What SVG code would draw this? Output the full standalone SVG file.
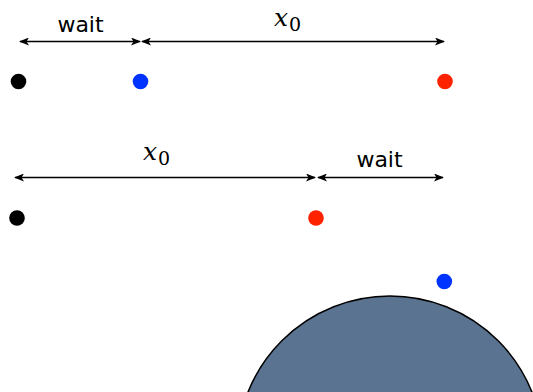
<svg xmlns="http://www.w3.org/2000/svg" width="533" height="392" viewBox="0 0 533 392">
<style>
.lbl{font-family:"DejaVu Sans",sans-serif;font-size:22px;fill:#000;text-anchor:middle}
.mx{font-family:"DejaVu Serif","Liberation Serif",serif;font-style:italic;font-size:25px;fill:#000}
.mn{font-family:"DejaVu Serif","Liberation Serif",serif;font-size:19px;fill:#000}
.ln{stroke:#000;stroke-width:1.5;fill:none;marker-start:url(#ah);marker-end:url(#ah)}
</style>
<defs>
<marker id="ah" viewBox="0 0 10 8" refX="9" refY="4" markerWidth="10" markerHeight="8" markerUnits="userSpaceOnUse" orient="auto-start-reverse">
<path d="M0,0 L10,4 L0,8 L2.5,4 Z" fill="#000"/>
</marker>
</defs>
<g id="earth">
<circle cx="390" cy="449" r="153" fill="#5a7391" stroke="#000" stroke-width="1.5"/>
</g>
<g id="connectors">
<line class="ln" x1="20" y1="41.5" x2="140" y2="41.5"/>
<line class="ln" x1="142" y1="41.5" x2="444" y2="41.5"/>
<line class="ln" x1="15" y1="177.5" x2="315" y2="177.5"/>
<line class="ln" x1="318" y1="177.5" x2="443" y2="177.5"/>
</g>
<g id="labels">
<text class="lbl" x="80.5" y="32">wait</text>
<text x="274" y="26"><tspan class="mx">x</tspan><tspan class="mn" dx="1" dy="5">0</tspan></text>
<text class="lbl" x="379.5" y="167">wait</text>
<text x="143" y="160"><tspan class="mx">x</tspan><tspan class="mn" dx="1" dy="5">0</tspan></text>
</g>
<g id="row1">
<circle cx="18.5" cy="81.5" r="7.8" fill="#000"/>
<circle cx="140.5" cy="81.5" r="7.8" fill="#0033ff"/>
<circle cx="445" cy="81.5" r="7.8" fill="#ff2200"/>
</g>
<g id="row2">
<circle cx="17" cy="218" r="7.8" fill="#000"/>
<circle cx="316" cy="218" r="7.8" fill="#ff2200"/>
</g>
<g id="satellite">
<circle cx="444.3" cy="281.5" r="7.8" fill="#0033ff"/>
</g>
</svg>
